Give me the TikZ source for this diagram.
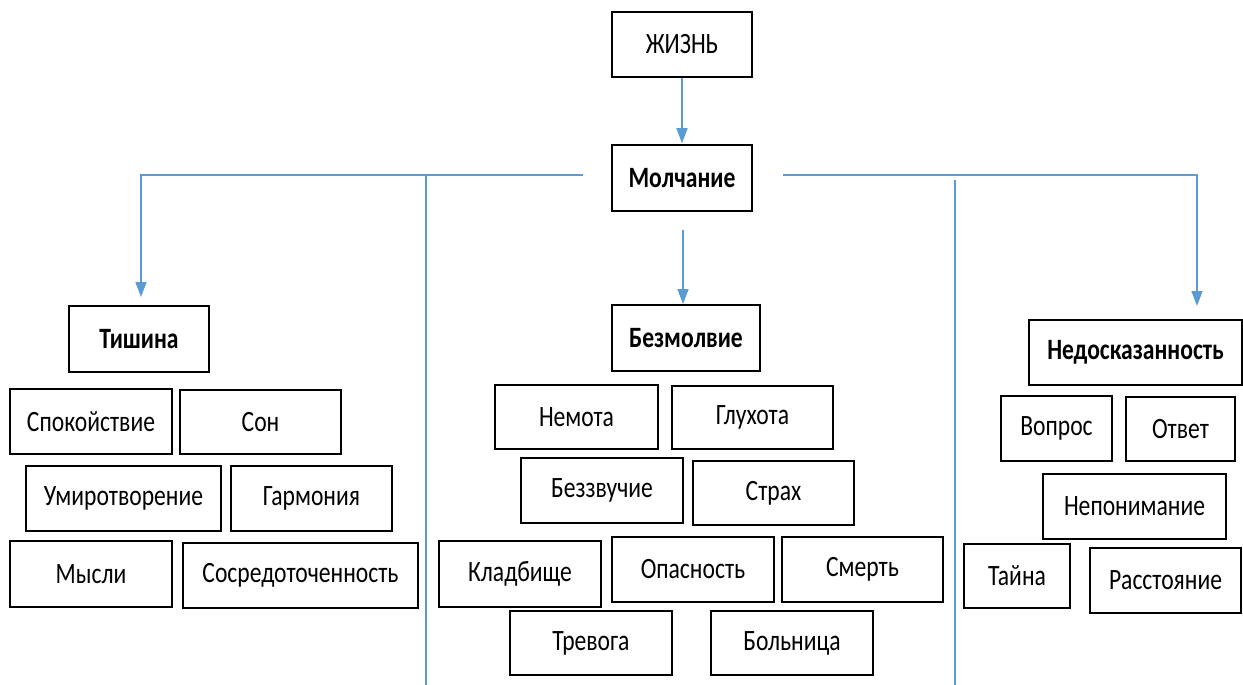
\documentclass[tikz,border=0pt]{standalone}
\usepackage{fontspec}
\setmainfont{Carlito}[FakeStretch=0.8]
\usetikzlibrary{arrows.meta}
\definecolor{lineblue}{RGB}{91,155,213}
\tikzset{
  box/.style={draw=black, line width=1.6pt, inner sep=0pt, align=center,
              font=\fontsize{29.5}{32}\selectfont},
  hbox/.style={box, font=\fontsize{29.5}{32}\selectfont\bfseries},
  conn/.style={draw=lineblue, line width=1.5pt},
  arr/.style={conn, -{Triangle[width=11pt,length=15pt]}}
}
\newcommand{\bx}[7]{\node[#1, minimum width=#5pt, minimum height=#6pt] (#2) at (#3,#4) {#7};}
\begin{document}
\begin{tikzpicture}[x=1pt,y=-1pt]
\useasboundingbox (0,0) rectangle (1243,685);
% top level
\bx{box}{zhizn}{682}{44.5}{140}{65}{ЖИЗНЬ}
\bx{hbox}{molch}{682}{178}{140}{66}{Молчание}
% second level
\bx{hbox}{tishina}{139}{339}{140}{66}{Тишина}
\bx{hbox}{bezm}{686}{338}{148}{66}{Безмолвие}
\bx{hbox}{nedo}{1135.5}{352.5}{213}{65}{Недосказанность}
% Tishina group
\bx{box}{spok}{91}{421.5}{162}{65}{Спокойствие}
\bx{box}{son}{260.5}{422}{161}{64}{Сон}
\bx{box}{umir}{123.5}{498.5}{195}{65}{Умиротворение}
\bx{box}{garm}{311.5}{498.5}{161}{65}{Гармония}
\bx{box}{mysli}{91}{574}{162}{66}{Мысли}
\bx{box}{sosr}{300.5}{575.5}{235}{65}{Сосредоточенность}
% Bezmolvie group
\bx{box}{nemota}{576.5}{417}{163}{64}{Немота}
\bx{box}{gluh}{752.5}{417.5}{161}{63}{Глухота}
\bx{box}{bezzv}{602}{490.5}{162}{65}{Беззвучие}
\bx{box}{strah}{773.5}{493}{161}{64}{Страх}
\bx{box}{kladb}{520}{574}{162}{66}{Кладбище}
\bx{box}{opas}{693}{569.5}{162}{65}{Опасность}
\bx{box}{smert}{862.5}{569.5}{161}{65}{Смерть}
\bx{box}{trev}{591}{643}{162}{64}{Тревога}
\bx{box}{boln}{792}{643}{162}{64}{Больница}
% Nedoskazannost group
\bx{box}{vopr}{1056.5}{428.5}{111}{65}{Вопрос}
\bx{box}{otvet}{1180.5}{429}{109}{64}{Ответ}
\bx{box}{nepon}{1134.5}{506.5}{183}{65}{Непонимание}
\bx{box}{tayna}{1017}{576}{106}{64}{Тайна}
\bx{box}{rasst}{1165.5}{580.5}{151}{65}{Расстояние}
% connector points
\coordinate (jl) at (583,175);
\coordinate (jr) at (783,175);
\coordinate (tin) at (141,297);
\coordinate (nin) at (1197,306);
\coordinate (mdown) at (683,230);
\coordinate (bin) at (683,304);
\coordinate (sepl) at (426,175);
\coordinate (sepl2) at (426,685);
\coordinate (sepr) at (955,180);
\coordinate (sepr2) at (955,685);
% connectors
\draw[arr] (zhizn.south) -- ([yshift=1pt]molch.north);
\draw[arr] (jl) -| (tin);
\draw[arr] (jr) -| (nin);
\draw[arr] (mdown) -- (bin);
\draw[conn] (sepl) -- (sepl2);
\draw[conn] (sepr) -- (sepr2);
\end{tikzpicture}
\end{document}
